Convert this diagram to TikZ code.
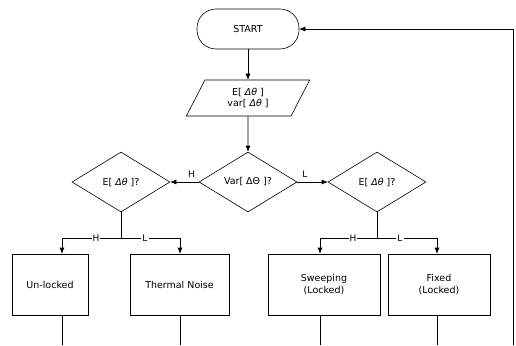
\documentclass[tikz,border=0pt]{standalone}
\usepackage{fontspec}
\setmainfont{DejaVu Sans}
\usetikzlibrary{shapes.geometric,arrows.meta,calc}

\begin{document}
\begin{tikzpicture}[
    x=1pt, y=-1pt,
    every node/.style={font=\fontsize{9.5}{11.5}\selectfont},
    start_node/.style={rectangle, rounded corners=19pt, draw, minimum width=102pt, minimum height=40pt},
    io_node/.style={trapezium, trapezium left angle=67, trapezium right angle=113, trapezium stretches=true, draw, minimum width=124pt, minimum height=36pt, align=center, inner sep=1pt},
    dec_node/.style={diamond, draw, aspect=1.6, minimum width=98pt, minimum height=60pt, inner sep=0pt},
    state_node/.style={rectangle, draw, minimum height=61pt, align=center},
    lbl/.style={font=\fontsize{9}{10}\selectfont, inner sep=1pt},
    br_lbl/.style={lbl, fill=white},
    arr/.style={-{Latex[length=6pt,width=5pt]}},
    line width=0.6pt
]
\useasboundingbox (0,0) rectangle (516,345);

% Start and input
\node[start_node] (start) at (248,29) {START};
\node[io_node] (inp) at (248,98) {E[ \textit{Δθ} ]\\var[ \textit{Δθ} ]};

% Decisions
\node[dec_node] (var) at (248,182) {Var[ ΔΘ ]?};
\node[dec_node] (eleft) at (121,182) {E[ \textit{Δθ} ]?};
\node[dec_node] (eright) at (377,182) {E[ \textit{Δθ} ]?};

% States
\node[state_node, minimum width=76pt] (unlocked) at (50,284.5) {Un-locked};
\node[state_node, minimum width=99pt] (thermal) at (179.5,284.5) {Thermal Noise};
\node[state_node, minimum width=112pt] (sweeping) at (324,284.5) {Sweeping\\(Locked)};
\node[state_node, minimum width=102pt] (fixed) at (439,284.5) {Fixed\\(Locked)};

% Branch points
\coordinate (bl) at (121,238);
\coordinate (blh) at (62,238);
\coordinate (bll) at (180,238);
\coordinate (br) at (377,238);
\coordinate (brh) at (320,238);
\coordinate (brl) at (437,238);
\coordinate (bot) at (0,345);
\coordinate (fb) at (513,345);

\draw[arr] (start) -- (inp);
\draw[arr] (inp) -- (var);
\draw[arr] (var.west) -- (eleft.east) node[lbl, pos=0.25, above=3pt] {H};
\draw[arr] (var.east) -- (eright.west) node[lbl, pos=0.25, above=3pt] {L};

% Left branch
\draw (eleft.south) -- (bl);
\draw[arr] (bl) -- (blh) -- (unlocked.north -| blh);
\draw[arr] (bl) -- (bll) -- (thermal.north -| bll);
\node[br_lbl] at (96,238) {H};
\node[br_lbl] at (145,238) {L};

% Right branch
\draw (eright.south) -- (br);
\draw[arr] (br) -- (brh) -- (sweeping.north -| brh);
\draw[arr] (br) -- (brl) -- (fixed.north -| brl);
\node[br_lbl] at (353,238) {H};
\node[br_lbl] at (400,238) {L};

% Exits and feedback
\draw (unlocked.south -| blh) -- (blh |- bot);
\draw (thermal.south -| bll) -- (bll |- bot);
\draw (sweeping.south -| brh) -- (brh |- bot);
\draw (fixed.south -| brl) -- (brl |- bot);
\draw[arr] (fb) |- (start.east);

\end{tikzpicture}
\end{document}
